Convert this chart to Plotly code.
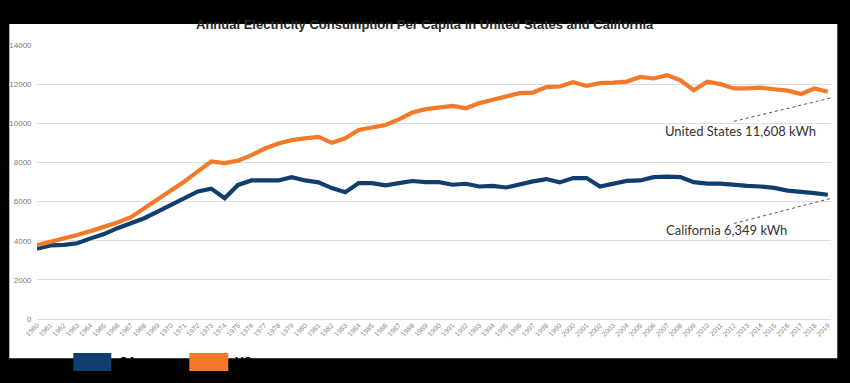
import plotly.graph_objects as go

years = [str(y) for y in range(1960, 2020)]

us = [3770, 3930, 4100, 4290, 4490, 4690, 4930, 5200, 5650, 6150,
      6600, 7030, 7540, 8050, 7970, 8090, 8370, 8710, 8970, 9140,
      9230, 9310, 9000, 9230, 9660, 9790, 9910, 10200, 10550, 10720,
      10830, 10890, 10770, 11030, 11200, 11360, 11540, 11570, 11850, 11880,
      12100, 11910, 12050, 12080, 12130, 12370, 12290, 12460, 12200, 11690,
      12120, 12000, 11780, 11780, 11820, 11740, 11670, 11500, 11780, 11608]

ca = [3590, 3760, 3790, 3870, 4120, 4340, 4640, 4890, 5150, 5490,
      5830, 6170, 6515, 6660, 6170, 6850, 7080, 7080, 7080, 7250,
      7080, 6980, 6690, 6480, 6945, 6945, 6830, 6945, 7050, 6990,
      6995, 6860, 6910, 6770, 6800, 6720, 6890, 7030, 7150, 6980,
      7200, 7200, 6770, 6900, 7060, 7080, 7250, 7270, 7250, 6990,
      6920, 6920, 6840, 6800, 6770, 6700, 6560, 6510, 6430, 6349]

series_names = ["CA", "US"]
colors = ["#0f3e6f", "#f37a29"]
title = "Annual Electricity Consumption Per Capita in United States and California"
us_label = "United States 11,608 kWh"
ca_label = "California 6,349 kWh"

W, H = 850, 383
L, R, T, B = 36.7, 19.3, 44.5, 64
pw, ph = W - L - R, H - T - B

def px(x):
    return (x - L) / pw

def py(y):
    return (H - B - y) / ph

fig = go.Figure()
fig.add_trace(go.Scatter(x=years, y=ca, mode="lines", name=series_names[0],
                         line=dict(color=colors[0], width=4.2), showlegend=False))
fig.add_trace(go.Scatter(x=years, y=us, mode="lines", name=series_names[1],
                         line=dict(color=colors[1], width=4.2), showlegend=False))

shapes = [
    # white panel
    dict(type="rect", xref="paper", yref="paper", x0=px(9), x1=px(837), y0=py(358.3), y1=py(23.5),
         fillcolor="white", line=dict(width=0), layer="below"),
    # leader lines
    dict(type="line", xref="x", yref="y", x0=52.0, x1=59.2, y0=10100, y1=11290,
         line=dict(color="#555555", width=1, dash="dot")),
    dict(type="line", xref="x", yref="y", x0=52.0, x1=59.2, y0=4880, y1=6157,
         line=dict(color="#555555", width=1, dash="dot")),
    # legend swatches
    dict(type="rect", xref="paper", yref="paper", x0=px(73), x1=px(111), y0=py(371), y1=py(353),
         fillcolor=colors[0], line=dict(width=0)),
    dict(type="rect", xref="paper", yref="paper", x0=px(189), x1=px(228), y0=py(371), y1=py(353),
         fillcolor=colors[1], line=dict(width=0)),
]

annotations = [
    dict(text="<b>" + title + "</b>", xref="paper", yref="paper", x=px(425), y=py(24),
         xanchor="center", yanchor="middle", showarrow=False,
         font=dict(family="Liberation Sans", size=13, color="#262626")),
    dict(text=us_label, xref="paper", yref="paper", x=px(663), y=py(131),
         xanchor="left", yanchor="middle", showarrow=False,
         font=dict(family="Lato, Open Sans", size=13, color="#333333")),
    dict(text=ca_label, xref="paper", yref="paper", x=px(664), y=py(230),
         xanchor="left", yanchor="middle", showarrow=False,
         font=dict(family="Lato, Open Sans", size=13, color="#333333")),
    dict(text="<b>" + series_names[0] + "</b>", xref="paper", yref="paper", x=px(117), y=py(362),
         xanchor="left", yanchor="middle", showarrow=False,
         font=dict(family="Liberation Sans", size=12, color="#000000")),
    dict(text="<b>" + series_names[1] + "</b>", xref="paper", yref="paper", x=px(233), y=py(362),
         xanchor="left", yanchor="middle", showarrow=False,
         font=dict(family="Liberation Sans", size=12, color="#000000")),
]

fig.update_layout(
    width=W, height=H,
    margin=dict(l=L, r=R, t=T, b=B, pad=0),
    paper_bgcolor="black",
    plot_bgcolor="white",
    shapes=shapes,
    annotations=annotations,
    showlegend=False,
    xaxis=dict(type="category", tickangle=-45, showgrid=False, showline=False, ticks="",
               tickfont=dict(family="Liberation Sans", size=7, color="#8a8a8a"), automargin=False),
    yaxis=dict(range=[0, 14000], dtick=2000, showgrid=True, gridcolor="#dedede", gridwidth=1,
               zeroline=True, zerolinecolor="#dedede", zerolinewidth=1, showline=False, ticks="",
               tickformat="d", ticksuffix="  ",
               tickfont=dict(family="Liberation Sans", size=8, color="#7a7a7a"), automargin=False),
)

fig.write_html("out.html", config={"displayModeBar": False},
               post_script="document.body.style.margin='0';document.body.style.background='black';document.body.style.overflow='hidden';")
